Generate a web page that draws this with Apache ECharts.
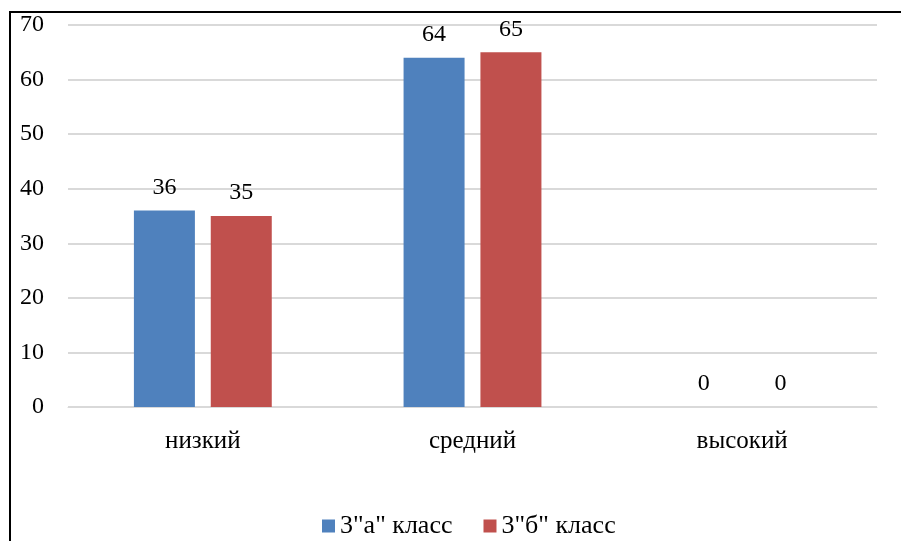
<!DOCTYPE html>
<html>
<head>
<meta charset="utf-8">
<script src="https://cdn.jsdelivr.net/npm/echarts@6/dist/echarts.min.js"></script>
<style>
  html, body { margin: 0; padding: 0; background: #fff; }
  #chart { width: 901px; height: 541px; }
</style>
</head>
<body>
<div id="chart"></div>
<script>
// Levels and per-class percentages
const categories = ['низкий', 'средний', 'высокий'];
const seriesNames = ['3"а" класс', '3"б" класс'];
const classA = [36, 64, 0];
const classB = [35, 65, 0];
const yTicks = { min: 0, max: 70, interval: 10 };

const font = '"Liberation Serif", "Times New Roman", serif';
const chart = echarts.init(document.getElementById('chart'));

const valueLabel = {
  show: true, position: 'top', distance: 11,
  fontFamily: font, fontSize: 24, color: '#000'
};

chart.setOption({
  animation: false,
  backgroundColor: '#fff',
  graphic: [{
    type: 'rect',
    shape: { x: 10, y: 12, width: 1000, height: 1000 },
    style: { fill: 'none', stroke: '#000', lineWidth: 2 },
    silent: true
  }],
  grid: { left: 68, right: 24, top: 25, bottom: 134 },
  legend: {
    bottom: -3,
    left: 317,
    itemWidth: 13,
    itemHeight: 13,
    itemGap: 31,
    icon: 'rect',
    textStyle: { fontFamily: font, fontSize: 26, color: '#000' },
    data: seriesNames
  },
  xAxis: {
    type: 'category',
    data: categories,
    axisLine: { lineStyle: { color: '#d9d9d9', width: 1 } },
    axisTick: { show: false },
    axisLabel: { fontFamily: font, fontSize: 25, color: '#000', margin: 22 }
  },
  yAxis: {
    type: 'value',
    min: yTicks.min,
    max: yTicks.max,
    interval: yTicks.interval,
    axisLine: { show: false },
    axisTick: { show: false },
    splitLine: { lineStyle: { color: '#d9d9d9', width: 2 } },
    axisLabel: { fontFamily: font, fontSize: 24, color: '#000', margin: 24 }
  },
  series: [
    {
      name: seriesNames[0],
      type: 'bar',
      data: classA,
      barWidth: 61,
      barGap: '26%',
      itemStyle: { color: '#4f81bd' },
      label: valueLabel
    },
    {
      name: seriesNames[1],
      type: 'bar',
      data: classB,
      barWidth: 61,
      itemStyle: { color: '#c0504d' },
      label: valueLabel
    }
  ]
});
</script>
</body>
</html>
